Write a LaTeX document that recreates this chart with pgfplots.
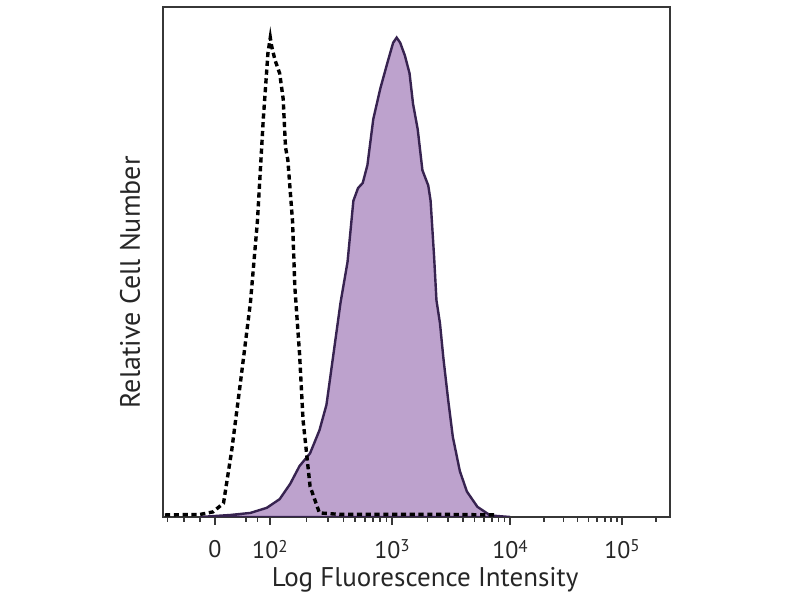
\documentclass[border=0pt]{standalone}
\usepackage{pgfplots}
\pgfplotsset{compat=1.18}
\usepackage{fontspec}
\setmainfont{PT Sans}
\definecolor{fillpurple}{RGB}{189,162,205}
\definecolor{linepurple}{RGB}{55,35,80}
\definecolor{frame}{RGB}{55,55,55}
\begin{document}
\begin{tikzpicture}
\useasboundingbox (0,0) rectangle (400pt,300pt);
\begin{axis}[
  at={(81.5pt,41.5pt)}, anchor=south west, scale only axis,
  width=253.5pt, height=255pt,
  xmin=1.043, xmax=5.376, ymin=0, ymax=100,
  axis line style={draw=frame, line width=1.2pt},
  xtick={1.487,1.957,3,4.009,4.966},
  xticklabels={0,10\raisebox{0.55ex}{\fontsize{8.5}{8.5}\selectfont 2},10\raisebox{0.55ex}{\fontsize{8.5}{8.5}\selectfont 3},10\raisebox{0.55ex}{\fontsize{8.5}{8.5}\selectfont 4},10\raisebox{0.55ex}{\fontsize{8.5}{8.5}\selectfont 5}},
  minor xtick={1.08,1.22,1.36,1.75,1.85,
    2.271,2.455,2.585,2.686,2.768,2.838,2.899,2.952,
    3.304,3.481,3.607,3.705,3.785,3.853,3.911,3.963,
    4.297,4.466,4.585,4.678,4.754,4.818,4.873,4.922,5.254},
  ytick=\empty,
  xtick pos=bottom, tick align=outside,
  major tick length=4pt, minor tick length=2.5pt,
  every tick/.style={frame, line width=0.8pt},
  xticklabel style={font=\fontsize{12}{13}\selectfont, text=black!85, yshift=-4pt},
  xlabel={Log Fluorescence Intensity},
  ylabel={Relative Cell Number},
  xlabel style={at={(axis description cs:0.517,0)}, anchor=center, yshift=-31.5pt, font=\fontsize{13.5}{15}\selectfont, text=black!85},
  ylabel style={at={(axis description cs:-0.065,0.46)}, anchor=center, font=\fontsize{14}{16}\selectfont, text=black!85},
  clip=true,
]
\addplot[draw=linepurple, line width=1.2pt, fill=fillpurple] coordinates {
(1.36,0) (1.62,0.4) (1.79,0.8) (1.93,1.8) (2.04,3.5) (2.13,6.5) (2.21,10)
(2.30,12.5) (2.38,17) (2.44,22) (2.50,32) (2.56,42) (2.62,50) (2.67,62)
(2.71,64.5) (2.75,65.5) (2.79,69) (2.84,78) (2.90,84) (2.96,89) (3.01,93)
(3.04,94) (3.07,93) (3.11,90.5) (3.15,87) (3.18,81) (3.22,76) (3.26,68)
(3.31,65) (3.33,62) (3.36,51) (3.38,42.5) (3.41,38) (3.44,31) (3.48,23)
(3.52,15.7) (3.58,9) (3.64,5) (3.73,2) (3.84,0.3) (4.01,0)
} \closedcycle;
\addplot[black, line width=1.7pt, dash pattern=on 2.6pt off 1.8pt] coordinates {
(1.06,0.4) (1.36,0.5) (1.47,1) (1.56,2.7) (1.63,13) (1.70,25.5) (1.79,42)
(1.85,58) (1.90,78) (1.94,91) (1.96,94) (1.97,92.5) (2.00,89.6) (2.04,87)
(2.07,82) (2.09,72.5) (2.11,70) (2.15,58) (2.17,45) (2.21,32) (2.24,19)
(2.30,6) (2.38,0.8) (2.56,0.5) (3.0,0.5) (3.5,0.5) (3.9,0.4)
};
\end{axis}
\end{tikzpicture}
\end{document}
